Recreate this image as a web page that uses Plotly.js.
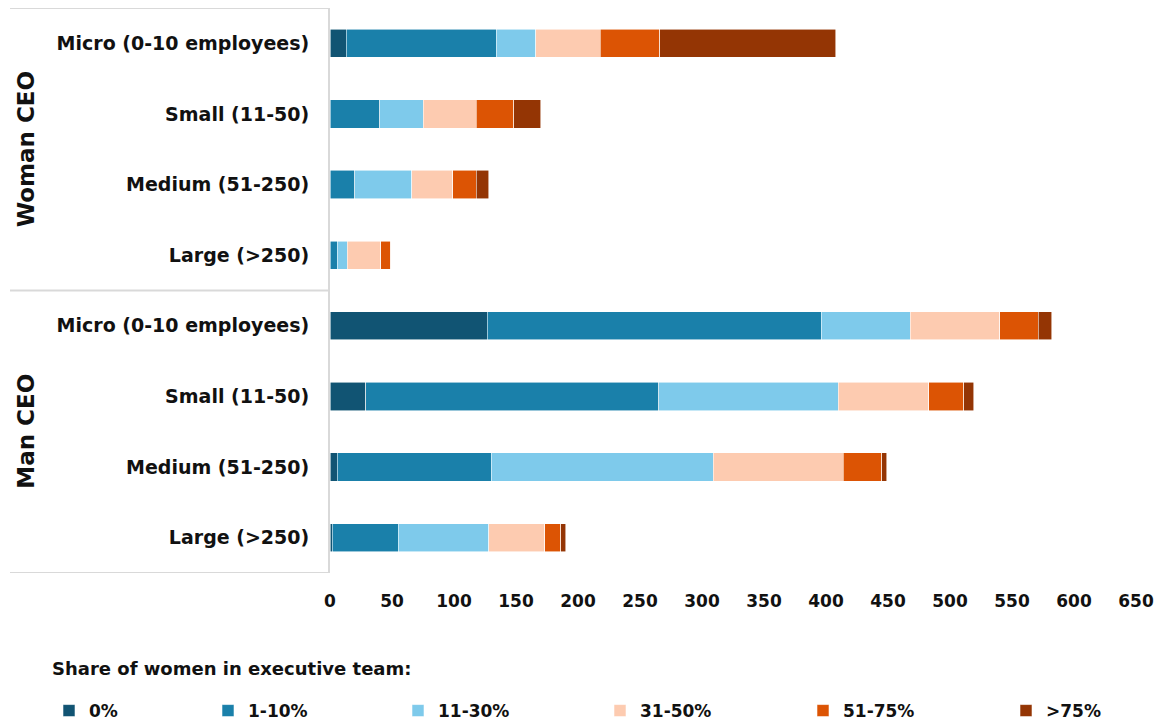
<!DOCTYPE html>
<html>
<head>
<meta charset="utf-8">
<script src="https://cdn.plot.ly/plotly-3.0.1.min.js"></script>
<style>html,body{margin:0;padding:0;background:#fff;}#chart{width:1162px;height:722px;}</style>
</head>
<body>
<div id="chart"></div>
<script>
// ---- data ----
const groups = ['Woman CEO', 'Man CEO'];
const sizes = ['Micro (0-10 employees)', 'Small (11-50)', 'Medium (51-250)', 'Large (>250)'];
const seriesNames = ['0%', '1-10%', '11-30%', '31-50%', '51-75%', '>75%'];
// rows: Woman Micro, Small, Medium, Large, Man Micro, Small, Medium, Large
const share0    = [13, 0, 0, 0, 127, 29, 6, 2];
const share1_10 = [121, 40, 20, 6, 269, 236, 124, 53];
const share11_30 = [32, 35, 46, 8, 72, 145, 179, 73];
const share31_50 = [52, 43, 33, 27, 72, 73, 105, 45];
const share51_75 = [48, 30, 19, 8, 31, 28, 31, 13];
const share75    = [142, 22, 10, 0, 11, 8, 4, 4];
const xTicks = [0, 50, 100, 150, 200, 250, 300, 350, 400, 450, 500, 550, 600, 650];

// ---- styles ----
const colors = ['#115473', '#1a80aa', '#7ecaeb', '#fdcbb0', '#dc5404', '#943504'];
const FONT = '"DejaVu Sans", sans-serif';
const TXT = '#111111';

const rowLabels = [];
groups.forEach(g => sizes.forEach(s => rowLabels.push(s)));
const rowPos = rowLabels.map((_, i) => i);

const values = [share0, share1_10, share11_30, share31_50, share51_75, share75];
const legendIds = ['legend', 'legend2', 'legend3', 'legend4', 'legend5', 'legend6'];
const traces = values.map((v, k) => ({
  type: 'bar', orientation: 'h',
  name: seriesNames[k], x: v, y: rowPos,
  legend: legendIds[k],
  marker: {color: colors[k], line: {color: 'rgba(255,255,255,0.7)', width: 0.8}},
  hovertemplate: '%{x}<extra>' + seriesNames[k] + '</extra>'
}));

// plot geometry helpers
const W = 1162, H = 722;
const L = 330, R = 1136, T = 8, B = 573;
const px2paperX = p => (p - L) / (R - L);
const px2paperY = p => (B - p) / (B - T);

const legendLefts = [49, 208, 398, 600, 803, 1006];
const layout = {
  width: W, height: H,
  margin: {l: L, r: W - R, t: T, b: H - B, pad: 0, autoexpand: false},
  paper_bgcolor: '#fff', plot_bgcolor: '#fff',
  font: {family: FONT, color: TXT, size: 17, weight: 'bold'},
  barmode: 'stack', bargap: 0.6,
  showlegend: true,
  xaxis: {
    range: [0, 650], tickvals: xTicks, ticktext: xTicks.map(String),
    showgrid: false, zeroline: false, showline: false, ticks: '',
    tickfont: {family: FONT, size: 17, color: TXT, weight: 'bold'},
    ticklabelstandoff: 16, fixedrange: true
  },
  yaxis: {
    range: [rowLabels.length - 0.5, -0.5],
    tickvals: rowPos, ticktext: rowLabels,
    showgrid: false, zeroline: false,
    showline: true, linecolor: '#d9d9d9', linewidth: 2,
    ticks: '', ticklabelstandoff: 15,
    tickfont: {family: FONT, size: 19, color: TXT, weight: 'bold'},
    fixedrange: true
  },
  shapes: [-0.5, sizes.length - 0.5, rowLabels.length - 0.5].map(yy => ({
    type: 'line', xref: 'paper', yref: 'y',
    x0: px2paperX(10), x1: 0, y0: yy, y1: yy,
    line: {color: '#d9d9d9', width: 2}
  })),
  annotations: groups.map((g, gi) => ({
    text: g, xref: 'paper', yref: 'y',
    x: px2paperX(26), y: gi * sizes.length + (sizes.length - 1) / 2,
    textangle: -90, showarrow: false,
    xanchor: 'center', yanchor: 'middle',
    font: {family: FONT, size: 23, color: TXT, weight: 'bold'}
  })).concat([{
    text: 'Share of women in executive team:', xref: 'paper', yref: 'paper',
    x: px2paperX(50), y: px2paperY(668), xanchor: 'left', yanchor: 'middle',
    showarrow: false, font: {family: FONT, size: 18, color: TXT, weight: 'bold'}
  }])
};
legendIds.forEach((id, k) => {
  layout[id] = {
    orientation: 'h', xref: 'container', yref: 'container',
    x: legendLefts[k] / W, xanchor: 'left',
    y: (H - 711) / H, yanchor: 'middle',
    bgcolor: 'rgba(0,0,0,0)', borderwidth: 0,
    font: {family: FONT, size: 17, color: TXT, weight: 'bold'},
    itemwidth: 30
  };
});

Plotly.newPlot('chart', traces, layout, {displayModeBar: false});
</script>
</body>
</html>
